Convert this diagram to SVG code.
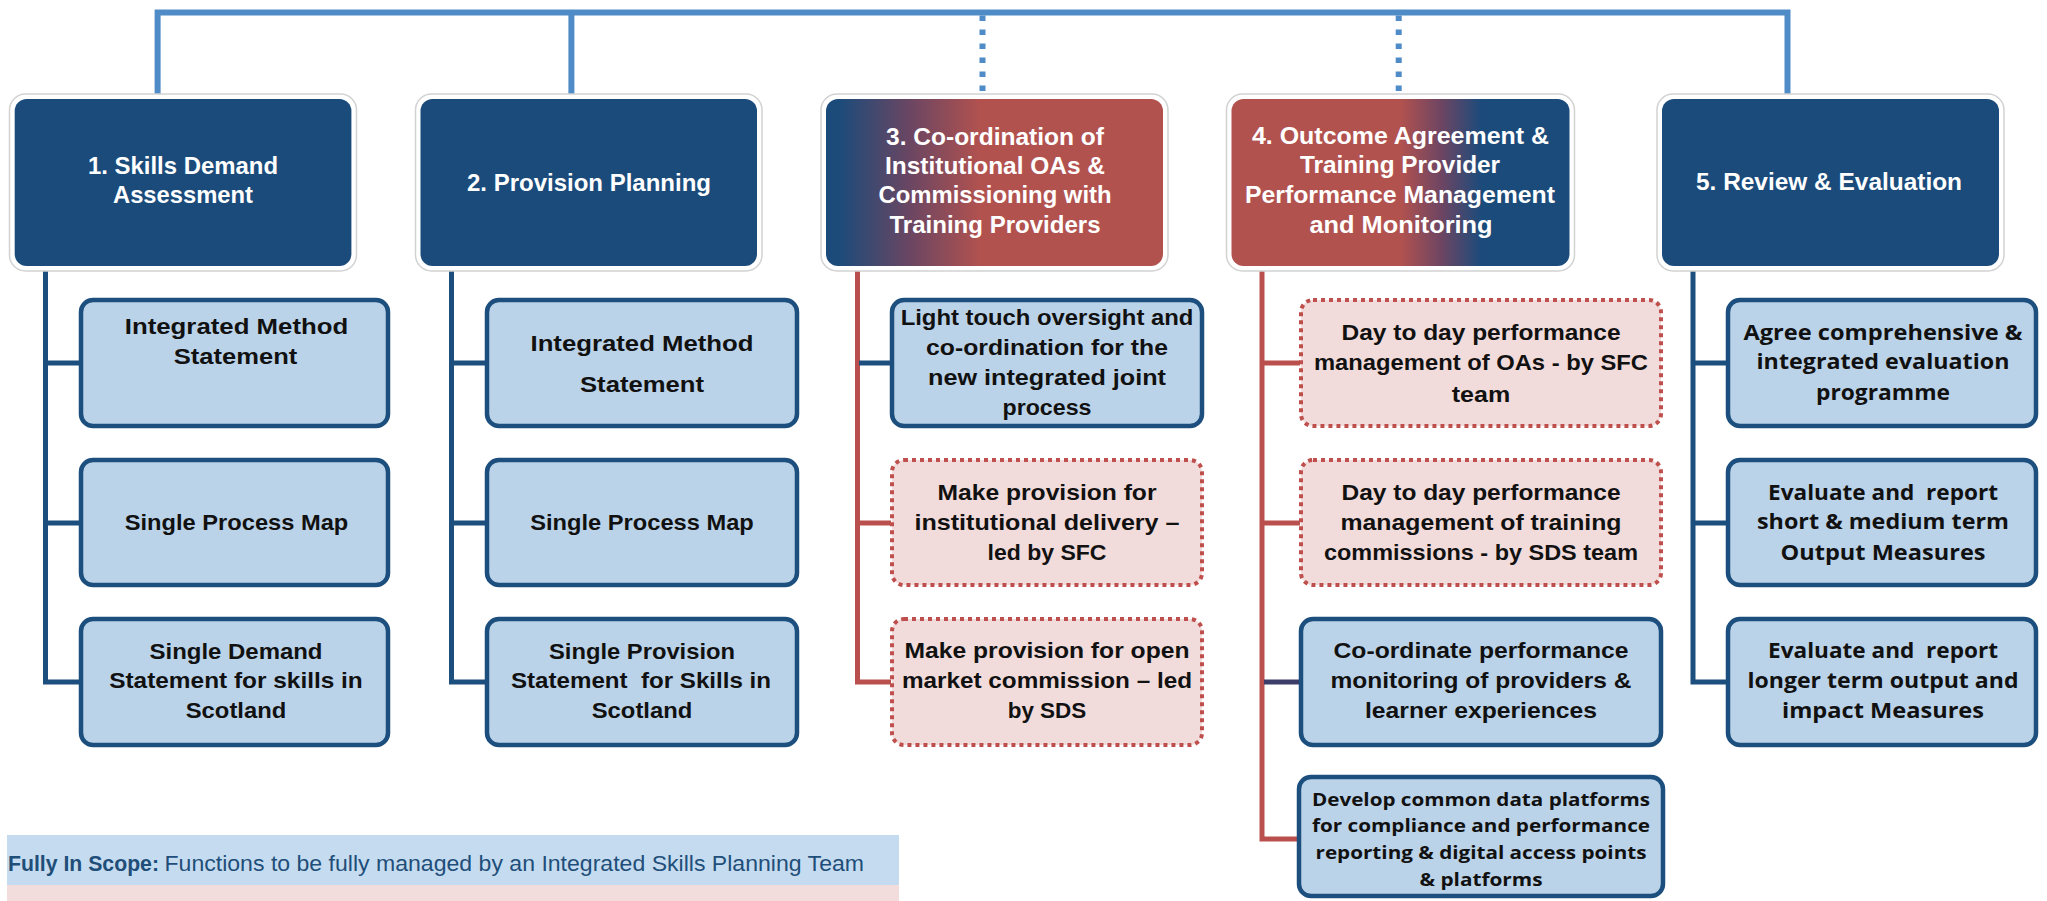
<svg xmlns="http://www.w3.org/2000/svg" width="2047" height="901" viewBox="0 0 2047 901">
<defs>
<linearGradient id="g3" x1="0" y1="0" x2="1" y2="0">
<stop offset="0" stop-color="#1B4B7B"/><stop offset="0.04" stop-color="#1C4B7A"/><stop offset="0.25" stop-color="#6B4662"/><stop offset="0.46" stop-color="#B2524F"/><stop offset="1" stop-color="#B2524F"/>
</linearGradient>
<linearGradient id="g4" x1="0" y1="0" x2="1" y2="0">
<stop offset="0" stop-color="#B2524F"/><stop offset="0.5" stop-color="#B2524F"/><stop offset="0.62" stop-color="#6E4562"/><stop offset="0.74" stop-color="#1B4B7B"/><stop offset="1" stop-color="#1B4B7B"/>
</linearGradient>
<style>
.halo{fill:#fff;stroke:#d2d2d2;stroke-width:1.5}
.main{fill:#1A4B7B}
.h{font-family:"Liberation Sans",Arial,sans-serif;font-weight:bold;font-size:24px;fill:#fff;text-anchor:middle}
.cb{fill:#BBD3E9;stroke:#1C4F7E;stroke-width:4.5}
.cp{fill:#F1DCDB;stroke:#BE4F4C;stroke-width:4;stroke-dasharray:4 4}
.c{font-family:"Liberation Sans",Arial,sans-serif;font-weight:bold;font-size:22px;fill:#111;text-anchor:middle}
.o{font-family:"Open Sans","Liberation Sans",sans-serif;font-weight:bold;font-size:21px;fill:#111;text-anchor:middle}
.o2{font-family:"Open Sans","Liberation Sans",sans-serif;font-weight:bold;font-size:18.5px;fill:#111;text-anchor:middle}
.top{fill:none;stroke:#4F8BC6;stroke-width:6}
.dot{fill:none;stroke:#4F8BC6;stroke-width:6;stroke-dasharray:5.5 8.5}
.tb{fill:none;stroke:#1C4F7E;stroke-width:5}
.tr{fill:none;stroke:#B9504D;stroke-width:5}
.tp{fill:none;stroke:#3C3D68;stroke-width:5}
.lg{font-family:"Liberation Sans",Arial,sans-serif;font-size:22px;fill:#1F4E79}
</style>
</defs>

<g id="connectors">
<path class="top" d="M157.6,99 V12.5 H1787.5 V99"/>
<path class="top" d="M571.4,12.5 V99"/>
<path class="dot" d="M982.5,15.5 V99"/>
<path class="dot" d="M1398.7,15.5 V99"/>
<path class="tb" d="M45.5,268 V682 H80 M45.5,363 H80 M45.5,523 H80"/>
<path class="tb" d="M451.5,268 V682 H486 M451.5,363 H486 M451.5,523 H486"/>
<path class="tr" d="M857.5,268 V682 H891 M857.5,523 H891"/>
<path class="tb" d="M859,363 H891"/>
<path class="tr" d="M1262,268 V839 H1299 M1262,363 H1300 M1262,523 H1300"/>
<path class="tp" d="M1264,682 H1300"/>
<path class="tb" d="M1693,268 V682 H1727 M1693,363 H1727 M1693,523 H1727"/>
</g>

<g id="n1">
<rect class="halo" x="9.5" y="94" width="347" height="177" rx="16"/>
<rect class="main" x="14.7" y="99" width="336.7" height="167" rx="12"/>
<text class="h" x="183" y="174" textLength="190" lengthAdjust="spacingAndGlyphs">1. Skills Demand</text>
<text class="h" x="183" y="203" textLength="140" lengthAdjust="spacingAndGlyphs">Assessment</text>
</g>
<g id="n2">
<rect class="halo" x="415.5" y="94" width="346.5" height="177" rx="16"/>
<rect class="main" x="420.5" y="99" width="336.5" height="167" rx="12"/>
<text class="h" x="589" y="191" textLength="244" lengthAdjust="spacingAndGlyphs">2. Provision Planning</text>
</g>
<g id="n3">
<rect class="halo" x="821" y="94" width="347" height="177" rx="16"/>
<rect x="826" y="99" width="337" height="167" rx="12" fill="url(#g3)"/>
<text class="h" x="995" y="145" textLength="218" lengthAdjust="spacingAndGlyphs">3. Co-ordination of</text>
<text class="h" x="995" y="173.5" textLength="220" lengthAdjust="spacingAndGlyphs">Institutional OAs &amp;</text>
<text class="h" x="995" y="203.3" textLength="233" lengthAdjust="spacingAndGlyphs">Commissioning with</text>
<text class="h" x="995" y="233.3" textLength="211" lengthAdjust="spacingAndGlyphs">Training Providers</text>
</g>
<g id="n4">
<rect class="halo" x="1226.5" y="94" width="348" height="177" rx="16"/>
<rect x="1231.5" y="99" width="338" height="167" rx="12" fill="url(#g4)"/>
<text class="h" x="1400.5" y="144" textLength="297" lengthAdjust="spacingAndGlyphs">4. Outcome Agreement &amp;</text>
<text class="h" x="1400" y="173.3" textLength="200" lengthAdjust="spacingAndGlyphs">Training Provider</text>
<text class="h" x="1400" y="203.3" textLength="310" lengthAdjust="spacingAndGlyphs">Performance Management</text>
<text class="h" x="1401" y="233.3" textLength="183" lengthAdjust="spacingAndGlyphs">and Monitoring</text>
</g>
<g id="n5">
<rect class="halo" x="1657" y="94" width="347" height="177" rx="16"/>
<rect class="main" x="1662" y="99" width="337" height="167" rx="12"/>
<text class="h" x="1829" y="190" textLength="266" lengthAdjust="spacingAndGlyphs">5. Review &amp; Evaluation</text>
</g>

<g id="n1a">
<rect class="cb" x="81" y="300" width="307" height="126" rx="12"/>
<text class="c" x="236.5" y="334" textLength="223.5" lengthAdjust="spacingAndGlyphs">Integrated Method</text>
<text class="c" x="235.5" y="364" textLength="123.5" lengthAdjust="spacingAndGlyphs">Statement</text>
</g>
<g id="n1b">
<rect class="cb" x="81" y="460" width="307" height="125" rx="12"/>
<text class="c" x="236.5" y="530" textLength="223.5" lengthAdjust="spacingAndGlyphs">Single Process Map</text>
</g>
<g id="n1c">
<rect class="cb" x="81" y="619" width="307" height="126" rx="12"/>
<text class="c" x="236" y="659" textLength="173" lengthAdjust="spacingAndGlyphs">Single Demand</text>
<text class="c" x="236" y="688" textLength="253.6" lengthAdjust="spacingAndGlyphs">Statement for skills in</text>
<text class="c" x="236" y="718" textLength="100.5" lengthAdjust="spacingAndGlyphs">Scotland</text>
</g>

<g id="n2a">
<rect class="cb" x="487" y="300" width="310" height="126" rx="12"/>
<text class="c" x="642" y="351" textLength="223" lengthAdjust="spacingAndGlyphs">Integrated Method</text>
<text class="c" x="642" y="392" textLength="124" lengthAdjust="spacingAndGlyphs">Statement</text>
</g>
<g id="n2b">
<rect class="cb" x="487" y="460" width="310" height="125" rx="12"/>
<text class="c" x="642" y="530" textLength="223.5" lengthAdjust="spacingAndGlyphs">Single Process Map</text>
</g>
<g id="n2c">
<rect class="cb" x="487" y="619" width="310" height="126" rx="12"/>
<text class="c" x="642" y="659" textLength="186" lengthAdjust="spacingAndGlyphs">Single Provision</text>
<text class="c" x="641" y="688" textLength="260" lengthAdjust="spacingAndGlyphs" xml:space="preserve">Statement  for Skills in</text>
<text class="c" x="642" y="718" textLength="100.5" lengthAdjust="spacingAndGlyphs">Scotland</text>
</g>

<g id="n3a">
<rect class="cb" x="892" y="300" width="310" height="126" rx="12"/>
<text class="c" x="1047" y="325" textLength="292.7" lengthAdjust="spacingAndGlyphs">Light touch oversight and</text>
<text class="c" x="1047" y="355" textLength="242" lengthAdjust="spacingAndGlyphs">co-ordination for the</text>
<text class="c" x="1047" y="385" textLength="238" lengthAdjust="spacingAndGlyphs">new integrated joint</text>
<text class="c" x="1047" y="415" textLength="89" lengthAdjust="spacingAndGlyphs">process</text>
</g>
<g id="n3b">
<rect class="cp" x="892" y="460" width="310" height="125" rx="12"/>
<text class="c" x="1047" y="500" textLength="219" lengthAdjust="spacingAndGlyphs">Make provision for</text>
<text class="c" x="1047" y="530" textLength="265" lengthAdjust="spacingAndGlyphs">institutional delivery –</text>
<text class="c" x="1047" y="560" textLength="119" lengthAdjust="spacingAndGlyphs">led by SFC</text>
</g>
<g id="n3c">
<rect class="cp" x="892" y="619" width="310" height="126" rx="12"/>
<text class="c" x="1047" y="658" textLength="285" lengthAdjust="spacingAndGlyphs">Make provision for open</text>
<text class="c" x="1047" y="688" textLength="290" lengthAdjust="spacingAndGlyphs">market commission – led</text>
<text class="c" x="1047" y="718" textLength="78.6" lengthAdjust="spacingAndGlyphs">by SDS</text>
</g>

<g id="n4a">
<rect class="cp" x="1301" y="300" width="360" height="126" rx="12"/>
<text class="c" x="1481" y="340" textLength="279" lengthAdjust="spacingAndGlyphs">Day to day performance</text>
<text class="c" x="1481" y="370" textLength="334" lengthAdjust="spacingAndGlyphs">management of OAs - by SFC</text>
<text class="c" x="1481" y="402" textLength="58.5" lengthAdjust="spacingAndGlyphs">team</text>
</g>
<g id="n4b">
<rect class="cp" x="1301" y="460" width="360" height="125" rx="12"/>
<text class="c" x="1481" y="500" textLength="279" lengthAdjust="spacingAndGlyphs">Day to day performance</text>
<text class="c" x="1481" y="530" textLength="281" lengthAdjust="spacingAndGlyphs">management of training</text>
<text class="c" x="1481" y="560" textLength="314" lengthAdjust="spacingAndGlyphs">commissions - by SDS team</text>
</g>
<g id="n4c">
<rect class="cb" x="1301" y="619" width="360" height="126" rx="12"/>
<text class="c" x="1481" y="658" textLength="295" lengthAdjust="spacingAndGlyphs">Co-ordinate performance</text>
<text class="c" x="1481" y="688" textLength="301" lengthAdjust="spacingAndGlyphs">monitoring of providers &amp;</text>
<text class="c" x="1481" y="718" textLength="232" lengthAdjust="spacingAndGlyphs">learner experiences</text>
</g>
<g id="n4d">
<rect class="cb" x="1299" y="777" width="364" height="119" rx="12"/>
<text class="o2" x="1481" y="806" textLength="338" lengthAdjust="spacingAndGlyphs">Develop common data platforms</text>
<text class="o2" x="1481" y="832" textLength="338" lengthAdjust="spacingAndGlyphs">for compliance and performance</text>
<text class="o2" x="1481" y="859" textLength="331" lengthAdjust="spacingAndGlyphs">reporting &amp; digital access points</text>
<text class="o2" x="1481" y="886" textLength="123" lengthAdjust="spacingAndGlyphs">&amp; platforms</text>
</g>

<g id="n5a">
<rect class="cb" x="1728" y="300" width="308" height="126" rx="12"/>
<text class="o" x="1883" y="340" textLength="279" lengthAdjust="spacingAndGlyphs">Agree comprehensive &amp;</text>
<text class="o" x="1883" y="369" textLength="253" lengthAdjust="spacingAndGlyphs">integrated evaluation</text>
<text class="o" x="1883" y="400" textLength="134" lengthAdjust="spacingAndGlyphs">programme</text>
</g>
<g id="n5b">
<rect class="cb" x="1728" y="460" width="308" height="125" rx="12"/>
<text class="o" x="1883" y="500" textLength="230" lengthAdjust="spacingAndGlyphs" xml:space="preserve">Evaluate and  report</text>
<text class="o" x="1883" y="529" textLength="252" lengthAdjust="spacingAndGlyphs">short &amp; medium term</text>
<text class="o" x="1883" y="560" textLength="205" lengthAdjust="spacingAndGlyphs">Output Measures</text>
</g>
<g id="n5c">
<rect class="cb" x="1728" y="619" width="308" height="126" rx="12"/>
<text class="o" x="1883" y="658" textLength="230" lengthAdjust="spacingAndGlyphs" xml:space="preserve">Evaluate and  report</text>
<text class="o" x="1883" y="688" textLength="271" lengthAdjust="spacingAndGlyphs">longer term output and</text>
<text class="o" x="1883" y="718" textLength="202" lengthAdjust="spacingAndGlyphs">impact Measures</text>
</g>

<g id="legend">
<rect x="7" y="835" width="892" height="50" fill="#C5DCF0"/>
<rect x="7" y="885" width="892" height="16" fill="#F2DDDC"/>
<text class="lg" x="8" y="870.7" font-weight="bold" textLength="151" lengthAdjust="spacingAndGlyphs">Fully In Scope:</text>
<text class="lg" x="164.5" y="870.7" textLength="699.5" lengthAdjust="spacingAndGlyphs">Functions to be fully managed by an Integrated Skills Planning Team</text>
</g>
</svg>
